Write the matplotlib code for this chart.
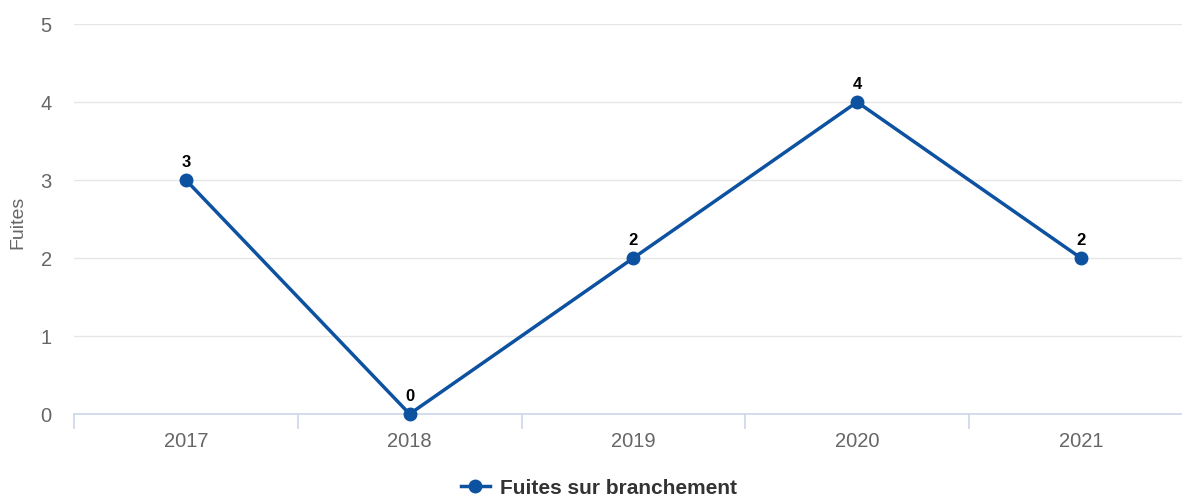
import matplotlib
matplotlib.use("Agg")
import matplotlib.pyplot as plt
from matplotlib.ticker import FixedLocator
from matplotlib.lines import Line2D

plt.rcParams['font.family'] = ['Liberation Sans', 'DejaVu Sans']

years = ["2017", "2018", "2019", "2020", "2021"]
values = [3, 0, 2, 4, 2]
series_name = "Fuites sur branchement"
y_label = "Fuites"
y_ticks = [0, 1, 2, 3, 4, 5]

W, H = 1182, 499
fig = plt.figure(figsize=(W / 100, H / 100), dpi=100)
left, right, top, bottom = 74, 1192.75, 24, 414
ax = fig.add_axes([left / W, (H - bottom) / H, (right - left) / W, (bottom - top) / H])

color = '#0d52a0'
x = list(range(len(years)))
ax.plot(x, values, color=color, lw=2.5, marker='o', ms=9, zorder=3, clip_on=False)
for xi, v in zip(x, values):
    ax.annotate(str(v), (xi, v), xytext=(0, 7), textcoords='offset points',
                ha='center', va='bottom', fontsize=12, fontweight='bold', color='black')

ax.set_xlim(-0.5, len(years) - 0.5)
ax.set_ylim(0, 5)
ax.set_yticks(y_ticks)
ax.yaxis.grid(True, color='#e6e6e6', lw=1)
ax.set_axisbelow(True)
for s in ['top', 'right', 'left']:
    ax.spines[s].set_visible(False)
ax.spines['bottom'].set_color('#ccd6eb')
ax.spines['bottom'].set_linewidth(1.2)

ax.set_xticks(x)
ax.set_xticklabels(years)
ax.xaxis.set_minor_locator(FixedLocator([i - 0.5 for i in range(len(years) + 1)]))
ax.tick_params(axis='x', which='major', length=0, pad=13, labelsize=14.5, labelcolor='#666666')
ax.tick_params(axis='x', which='minor', length=11, width=1.2, color='#ccd6eb')
ax.tick_params(axis='y', length=0, pad=16, labelsize=14.5, labelcolor='#666666')

fig.text(18 / W, 1 - 222 / H, y_label, rotation=90, ha='center', va='center',
         fontsize=14, color='#666666')

handle = Line2D([0], [0], color=color, lw=2.5, marker='o', ms=9)
fig.legend([handle], [series_name], loc='center', bbox_to_anchor=(599 / W, 1 - 488 / H),
           frameon=False, handlelength=1.4, handletextpad=0.5,
           prop={'size': 15, 'weight': 'bold'}, labelcolor='#333333')

fig.savefig('out.png', dpi=100)
